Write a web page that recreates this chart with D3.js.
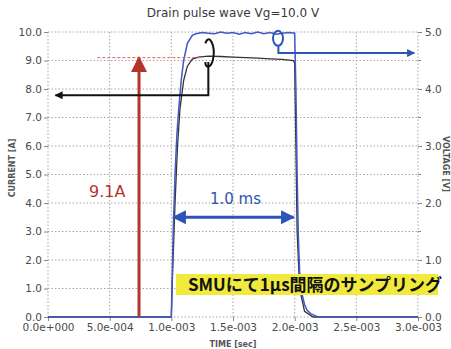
<!DOCTYPE html>
<html>
<head>
<meta charset="utf-8">
<script src="https://cdn.jsdelivr.net/npm/d3@7"></script>
<style>
  body { margin: 0; background: #fff; }
  text { font-family: "DejaVu Sans", sans-serif; }
</style>
</head>
<body>
<div id="chart"></div>
<script>
var width = 451, height = 349;
var margin = {top: 32, right: 33, bottom: 32, left: 48};

// current trace [A], time in seconds
var currentTime = [0, 0.5e-3, 1.0e-3, 1.01e-3, 1.03e-3, 1.05e-3, 1.07e-3, 1.10e-3, 1.13e-3, 1.17e-3, 1.22e-3,
  1.30e-3, 1.40e-3, 1.50e-3, 1.60e-3, 1.70e-3, 1.80e-3, 1.90e-3, 1.99e-3, 2.00e-3, 2.01e-3, 2.02e-3,
  2.04e-3, 2.08e-3, 2.15e-3, 3.0e-3];
var currentValues = [0, 0, 0, 1.5, 4.0, 6.0, 7.3, 8.3, 8.8, 9.05, 9.12,
  9.15, 9.14, 9.12, 9.10, 9.08, 9.06, 9.04, 9.0, 8.9, 6.0, 3.0,
  1.0, 0.2, 0, 0];

// voltage trace [V]
var voltageTime = [0, 0.5e-3, 1.0e-3, 1.005e-3, 1.015e-3, 1.03e-3, 1.045e-3, 1.06e-3, 1.08e-3, 1.10e-3, 1.13e-3,
  1.17e-3, 1.20e-3, 1.25e-3, 1.30e-3, 1.35e-3, 1.40e-3, 1.45e-3, 1.50e-3, 1.55e-3, 1.60e-3, 1.65e-3,
  1.70e-3, 1.75e-3, 1.80e-3, 1.85e-3, 1.90e-3, 1.95e-3, 2.00e-3, 2.01e-3, 2.02e-3, 2.03e-3, 2.04e-3,
  2.06e-3, 2.08e-3, 2.10e-3, 2.13e-3, 2.17e-3, 2.20e-3, 3.0e-3];
var voltageValues = [0, 0, 0, 0.5, 1.5, 2.5, 3.2, 3.65, 4.15, 4.5, 4.8,
  4.94, 4.97, 4.99, 4.98, 4.97, 5.0, 4.98, 4.99, 4.96, 4.99, 4.97,
  5.0, 4.97, 4.99, 4.96, 4.98, 4.99, 4.98, 4.0, 2.5, 1.4, 0.8,
  0.4, 0.22, 0.12, 0.06, 0.02, 0, 0];

var xTicks = [0, 0.5e-3, 1.0e-3, 1.5e-3, 2.0e-3, 2.5e-3, 3.0e-3];
var xTickLabels = ["0.0e+000", "5.0e-004", "1.0e-003", "1.5e-003", "2.0e-003", "2.5e-003", "3.0e-003"];
var currentTicks = [0, 1, 2, 3, 4, 5, 6, 7, 8, 9, 10];
var voltageTicks = [0, 1, 2, 3, 4, 5];

var svg = d3.select("#chart").append("svg")
  .attr("width", width)
  .attr("height", height);

var x = d3.scaleLinear().domain([0, 3e-3]).range([margin.left, width - margin.right]);
var yI = d3.scaleLinear().domain([0, 10]).range([height - margin.bottom, margin.top]);
var yV = d3.scaleLinear().domain([0, 5]).range([height - margin.bottom, margin.top]);

// grid
var grid = svg.append("g").attr("stroke", "#aaa4a4").attr("stroke-width", 1).attr("stroke-dasharray", "1.5,2");
grid.selectAll(".gx").data(xTicks).enter().append("line")
  .attr("x1", function(d) { return x(d); }).attr("x2", function(d) { return x(d); })
  .attr("y1", yI(0)).attr("y2", yI(10));
grid.selectAll(".gy").data(currentTicks).enter().append("line")
  .attr("y1", function(d) { return yI(d); }).attr("y2", function(d) { return yI(d); })
  .attr("x1", x(0)).attr("x2", x(3e-3));

var tickColor = "#4a4a4a";
var xAxis = svg.append("g")
  .attr("transform", "translate(0," + yI(0) + ")")
  .call(d3.axisBottom(x).tickValues(xTicks).tickSize(4).tickPadding(3)
    .tickFormat(function(d, i) { return xTickLabels[i]; }));
var lAxis = svg.append("g")
  .attr("transform", "translate(" + x(0) + ",0)")
  .call(d3.axisLeft(yI).tickValues(currentTicks).tickSize(4).tickPadding(2).tickFormat(d3.format(".1f")));
var rAxis = svg.append("g")
  .attr("transform", "translate(" + x(3e-3) + ",0)")
  .call(d3.axisRight(yV).tickValues(voltageTicks).tickSize(4).tickPadding(3).tickFormat(d3.format(".1f")));
[xAxis, lAxis, rAxis].forEach(function(a) {
  a.select(".domain").remove();
  a.selectAll("line").attr("stroke", "#888");
  a.selectAll("text").attr("fill", tickColor).style("font-size", "10.5px").style("font-family", "DejaVu Sans");
});
// minor ticks on the right
svg.append("g").selectAll("line").data([0.5, 1.5, 2.5, 3.5, 4.5]).enter().append("line")
  .attr("x1", x(3e-3)).attr("x2", x(3e-3) + 3)
  .attr("y1", function(d) { return yV(d); }).attr("y2", function(d) { return yV(d); })
  .attr("stroke", "#888");

// titles
svg.append("text").attr("x", 233).attr("y", 17).attr("text-anchor", "middle")
  .attr("fill", "#3a3a3a").style("font-size", "12px").text("Drain pulse wave Vg=10.0 V");
svg.append("text").attr("x", 233).attr("y", 347).attr("text-anchor", "middle")
  .attr("fill", "#555").style("font-size", "8px").style("font-weight", "bold").text("TIME [sec]");
svg.append("text").attr("transform", "translate(15,168) rotate(-90)").attr("text-anchor", "middle")
  .attr("fill", "#555").style("font-size", "8px").style("font-weight", "bold").text("CURRENT [A]");
svg.append("text").attr("transform", "translate(443,164) rotate(90)").attr("text-anchor", "middle")
  .attr("fill", "#555").style("font-size", "8px").style("font-weight", "bold").text("VOLTAGE [V]");

// traces
var currentLine = d3.line()
  .x(function(d, i) { return x(currentTime[i]); })
  .y(function(d) { return yI(d); });
var voltageLine = d3.line()
  .x(function(d, i) { return x(voltageTime[i]); })
  .y(function(d) { return yV(d); });

svg.append("path").datum(currentValues)
  .attr("d", currentLine).attr("fill", "none").attr("stroke", "#333").attr("stroke-width", 1.3);
svg.append("path").datum(voltageValues)
  .attr("d", voltageLine).attr("fill", "none").attr("stroke", "#4058c8").attr("stroke-width", 1.5);

// annotations
var defs = svg.append("defs");
function marker(id, color, w, h) {
  defs.append("marker").attr("id", id).attr("viewBox", "0 0 10 10")
    .attr("refX", 9).attr("refY", 5).attr("markerWidth", w).attr("markerHeight", h)
    .attr("markerUnits", "userSpaceOnUse").attr("orient", "auto-start-reverse")
    .append("path").attr("d", "M0,0L10,5L0,10Z").attr("fill", color);
}
marker("redHead", "#b5352a", 18, 16);
marker("blackHead", "#111", 10, 8);
marker("blueHead", "#2d55b8", 10, 8);
marker("blueHead2", "#2d55b8", 16, 14);

// red 9.1A
svg.append("line").attr("x1", x(0.4e-3)).attr("x2", x(1.25e-3))
  .attr("y1", yI(9.1)).attr("y2", yI(9.1))
  .attr("stroke", "#e06060").attr("stroke-width", 1).attr("stroke-dasharray", "3,2");
svg.append("line").attr("x1", x(0.738e-3)).attr("x2", x(0.738e-3))
  .attr("y1", yI(0)).attr("y2", yI(9.1))
  .attr("stroke", "#b5352a").attr("stroke-width", 3).attr("marker-end", "url(#redHead)");
svg.append("text").attr("x", x(0.48e-3)).attr("y", yI(4.2)).attr("text-anchor", "middle")
  .attr("fill", "#b5352a").style("font-size", "16px").text("9.1A");

// black pointer: loop round the current trace, then down and left
var bx = x(1.30e-3);
svg.append("path")
  .attr("d", "M" + (bx - 3) + "," + yI(9.6) +
    " C" + (bx + 1) + "," + yI(10.0) + " " + (bx + 7) + "," + yI(9.5) + " " + (bx + 5) + "," + yI(9.1) +
    " C" + (bx + 3) + "," + yI(8.7) + " " + (bx - 3) + "," + yI(8.7) + " " + (bx - 3) + "," + yI(8.95) +
    " M" + bx + "," + yI(8.95) +
    " L" + bx + "," + yI(7.78) + " L" + x(0.06e-3) + "," + yI(7.78))
  .attr("fill", "none").attr("stroke", "#111").attr("stroke-width", 2).attr("marker-end", "url(#blackHead)");

// blue pointer
svg.append("ellipse").attr("cx", x(1.865e-3)).attr("cy", yV(4.89)).attr("rx", 5).attr("ry", 7.5)
  .attr("fill", "none").attr("stroke", "#2d55b8").attr("stroke-width", 2);
svg.append("path")
  .attr("d", "M" + x(1.868e-3) + "," + yV(4.76) + " L" + x(1.868e-3) + "," + yV(4.63) +
    " L" + x(2.97e-3) + "," + yV(4.63))
  .attr("fill", "none").attr("stroke", "#2d55b8").attr("stroke-width", 2).attr("marker-end", "url(#blueHead)");

// 1.0 ms
svg.append("line").attr("x1", x(1.0e-3) + 2).attr("x2", x(2.0e-3) - 1)
  .attr("y1", yI(3.5)).attr("y2", yI(3.5))
  .attr("stroke", "#2d55b8").attr("stroke-width", 3)
  .attr("marker-start", "url(#blueHead2)").attr("marker-end", "url(#blueHead2)");
svg.append("text").attr("x", x(1.52e-3)).attr("y", yI(3.95)).attr("text-anchor", "middle")
  .attr("fill", "#2d55b8").style("font-size", "15px").text("1.0 ms");

// yellow note
svg.append("rect").attr("x", 176).attr("y", 274).attr("width", 262).attr("height", 21)
  .attr("fill", "#f0ea3c");
svg.append("text").attr("x", 188).attr("y", 291)
  .attr("fill", "#111").style("font-size", "17px").style("font-weight", "bold")
  .style("font-family", "'Noto Sans CJK JP', sans-serif").text("SMUにて1μs間隔のサンプリング");
</script>
</body>
</html>
